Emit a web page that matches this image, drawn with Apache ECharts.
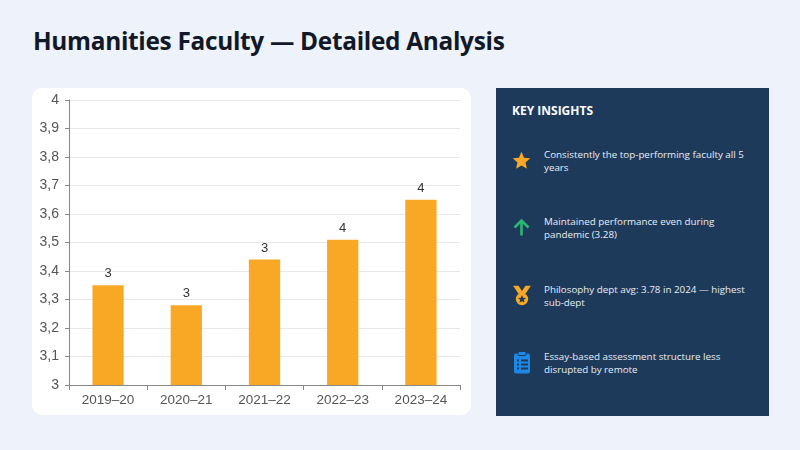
<!DOCTYPE html>
<html lang="en">
<head>
<meta charset="UTF-8">
<title>Humanities Faculty — Detailed Analysis</title>
<script src="https://cdn.jsdelivr.net/npm/echarts@6/dist/echarts.min.js"></script>
<style>
    html, body { margin: 0; padding: 0; }
    body { width: 800px; height: 450px; background: #eef2fa; position: relative; overflow: hidden; font-family: "Open Sans", sans-serif; }
    .title { position: absolute; left: 33px; top: 24px; font-size: 24.4px; font-weight: 700; color: #111827; letter-spacing: -0.3px; }
    .card { position: absolute; left: 32px; top: 88px; width: 439px; height: 327px; background: #fff; border-radius: 10px; }
    #chart { width: 439px; height: 327px; }
    .panel { position: absolute; left: 496px; top: 88px; width: 273px; height: 328px; background: #1e3a5a; color: #e8eef6; }
    .panel h3 { margin: 0; position: absolute; left: 16px; top: 14px; font-size: 12px; font-weight: 700; color: #fff; }
    .item { position: absolute; left: 16px; width: 250px; }
    .item svg { position: absolute; left: 0; top: 0; }
    .item p { margin: 0; position: absolute; left: 32px; top: -2px; width: 205px; font-size: 9.8px; line-height: 13px; }
</style>
</head>
<body>
<div class="title">Humanities Faculty — Detailed Analysis</div>
<div class="card"><div id="chart"></div></div>
<div class="panel">
    <h3>KEY INSIGHTS</h3>
    <div class="item" style="top:62px">
        <svg width="21" height="21" viewBox="0 0 24 24" style="top:0px;left:-1px"><path fill="#f9a825" d="M12 2l2.9 6.9 7.1.6-5.4 4.7 1.6 7.3L12 17.8 5.8 21.5l1.6-7.3L2 9.5l7.1-.6z"/></svg>
        <p>Consistently the top-performing faculty all 5 years</p>
    </div>
    <div class="item" style="top:129px">
        <svg width="21" height="21" viewBox="0 0 24 24" style="top:0px;left:-1px"><path fill="none" stroke="#2bb673" stroke-width="3" d="M12 21V4M4 12l8-8 8 8"/></svg>
        <p>Maintained performance even during pandemic (3.28)</p>
    </div>
    <div class="item" style="top:197px">
        <svg width="22" height="23" viewBox="0 0 24 26" style="top:-1px;left:-1px"><path fill="#f9a825" d="M2 2h6l4 6 4-6h6l-6 9h-8z"/><circle cx="12" cy="17" r="7" fill="#f9a825"/><path fill="#1e3a5a" d="M12 12.5l1.3 3 3.2.3-2.4 2.1.7 3.1L12 19.4 9.2 21l.7-3.1-2.4-2.1 3.2-.3z"/></svg>
        <p>Philosophy dept avg: 3.78 in 2024 — highest sub-dept</p>
    </div>
    <div class="item" style="top:264px">
        <svg width="20" height="25" viewBox="0 0 20 24" style="top:-2px"><rect x="2" y="3" width="16" height="20" rx="2" fill="#1e88e5"/><rect x="6" y="1" width="8" height="4" rx="1" fill="#1e88e5" stroke="#1e3a5a" stroke-width="1"/><g fill="#1e3a5a"><rect x="5" y="9" width="2" height="2"/><rect x="9" y="9" width="7" height="2"/><rect x="5" y="13" width="2" height="2"/><rect x="9" y="13" width="7" height="2"/><rect x="5" y="17" width="2" height="2"/><rect x="9" y="17" width="7" height="2"/></g></svg>
        <p>Essay-based assessment structure less disrupted by remote</p>
    </div>
</div>
<script>
    var categories = ['2019–20', '2020–21', '2021–22', '2022–23', '2023–24'];
    var gpaValues = [3.35, 3.28, 3.44, 3.51, 3.65];
    var yMin = 3, yMax = 4, yStep = 0.1;

    var chart = echarts.init(document.getElementById('chart'));
    chart.setOption({
        animation: false,
        grid: { left: 37, right: 11, top: 12, bottom: 30 },
        xAxis: {
            type: 'category',
            data: categories,
            axisLine: { lineStyle: { color: '#888' } },
            axisTick: { show: true, lineStyle: { color: '#888' } },
            axisLabel: { color: '#555', fontSize: 13.5, fontFamily: 'Liberation Sans', margin: 8 }
        },
        yAxis: {
            type: 'value',
            min: yMin,
            max: yMax,
            interval: yStep,
            axisLine: { show: true, lineStyle: { color: '#888' } },
            axisTick: { show: true, length: 4, lineStyle: { color: '#888' } },
            splitLine: { lineStyle: { color: '#e8e8e8' } },
            axisLabel: {
                color: '#555', fontSize: 14, fontFamily: 'Liberation Sans', margin: 10,
                formatter: function (v) { return String(+v.toFixed(1)).replace('.', ','); }
            }
        },
        series: [{
            type: 'bar',
            data: gpaValues,
            barWidth: '40%',
            itemStyle: { color: '#f9a825' },
            label: {
                show: true,
                position: 'top',
                color: '#333',
                fontSize: 13,
                fontFamily: 'Liberation Sans',
                formatter: function (p) { return Math.round(p.value); }
            }
        }]
    });
</script>
</body>
</html>
